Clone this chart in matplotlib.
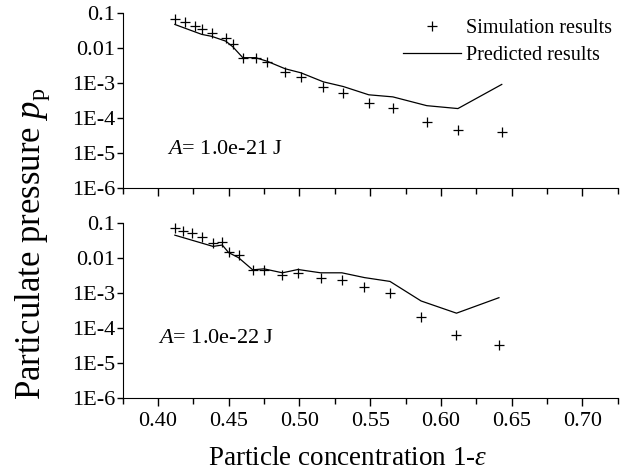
import matplotlib
matplotlib.use('Agg')
import matplotlib.pyplot as plt
from matplotlib.ticker import FixedLocator, LogLocator, NullFormatter

plt.rcParams['font.family'] = ['Liberation Serif', 'DejaVu Serif']
plt.rcParams['mathtext.fontset'] = 'custom'
plt.rcParams['mathtext.it'] = 'Liberation Serif:italic'
plt.rcParams['mathtext.rm'] = 'Liberation Serif'

# A = 1.0e-21 J (top panel)
sim_x_21 = [0.412, 0.419, 0.426, 0.431, 0.438, 0.448, 0.453, 0.460, 0.469, 0.477,
            0.490, 0.501, 0.517, 0.531, 0.549, 0.566, 0.590, 0.612, 0.643]
sim_y_21 = [0.071, 0.057, 0.043, 0.035, 0.028, 0.020, 0.013, 0.0054, 0.0054, 0.0040,
            0.0021, 0.00154, 8.1e-4, 5.2e-4, 2.7e-4, 1.95e-4, 8.1e-5, 4.6e-5, 4.1e-5]
pred_x_21 = [0.412, 0.431, 0.438, 0.448, 0.453, 0.460, 0.469, 0.477, 0.490, 0.501,
             0.517, 0.531, 0.549, 0.566, 0.590, 0.612, 0.643]
pred_y_21 = [0.048, 0.025, 0.022, 0.016, 0.011, 0.0054, 0.0054, 0.0043, 0.0026, 0.0020,
             0.0011, 8.1e-4, 4.7e-4, 4.1e-4, 2.3e-4, 1.9e-4, 9.3e-4]

# A = 1.0e-22 J (bottom panel)
sim_x_22 = [0.412, 0.418, 0.424, 0.431, 0.439, 0.4455, 0.450, 0.457, 0.467, 0.475,
            0.488, 0.499, 0.515, 0.530, 0.546, 0.564, 0.586, 0.611, 0.641]
sim_y_22 = [0.071, 0.059, 0.050, 0.038, 0.026, 0.028, 0.0144, 0.0116, 0.0045, 0.0045,
            0.0031, 0.0037, 0.0026, 0.0023, 0.0015, 9.6e-4, 2.0e-4, 6.2e-5, 3.2e-5]
pred_x_22 = [0.412, 0.439, 0.4455, 0.450, 0.457, 0.467, 0.475, 0.488, 0.499, 0.515,
             0.530, 0.546, 0.564, 0.586, 0.611, 0.641]
pred_y_22 = [0.044, 0.021, 0.023, 0.014, 0.010, 0.0045, 0.0048, 0.0037, 0.0046, 0.0037,
             0.0037, 0.0027, 0.0021, 5.8e-4, 2.6e-4, 7.2e-4]

y_ticks = [1e-6, 1e-5, 1e-4, 1e-3, 1e-2, 1e-1]
y_labels = ['1E-6', '1E-5', '1E-4', '1E-3', '0.01', '0.1']
x_ticks = [0.40, 0.45, 0.50, 0.55, 0.60, 0.65, 0.70]
x_labels = ['0.40', '0.45', '0.50', '0.55', '0.60', '0.65', '0.70']
x_minor = [0.375, 0.425, 0.475, 0.525, 0.575, 0.625, 0.675, 0.725]
panel_labels = ['$A$= 1.0e-21 J', '$A$= 1.0e-22 J']
label_pos = [(0.089, 0.223), (0.071, 0.34)]

fig = plt.figure(figsize=(6.25, 4.72), dpi=100)
ax1 = fig.add_axes([0.196, 0.601, 0.7925, 0.3708])
ax2 = fig.add_axes([0.196, 0.1574, 0.7925, 0.3708])

panels = [(ax1, sim_x_21, sim_y_21, pred_x_21, pred_y_21),
          (ax2, sim_x_22, sim_y_22, pred_x_22, pred_y_22)]

for i, (ax, sx, sy, px, py) in enumerate(panels):
    ax.plot(sx, sy, '+', color='black', markersize=7.5, markeredgewidth=0.9,
            label='Simulation results')
    ax.plot(px, py, '-', color='black', linewidth=0.9, label='Predicted results')
    ax.set_yscale('log')
    ax.set_ylim(1e-6, 1e-1)
    ax.set_xlim(0.375, 0.725)
    ax.spines['top'].set_visible(False)
    ax.spines['right'].set_visible(False)
    ax.yaxis.set_major_locator(FixedLocator(y_ticks))
    ax.set_yticklabels(y_labels)
    ax.yaxis.set_minor_locator(LogLocator(base=10, subs=range(2, 10)))
    ax.yaxis.set_minor_formatter(NullFormatter())
    ax.xaxis.set_major_locator(FixedLocator(x_ticks))
    ax.xaxis.set_minor_locator(FixedLocator(x_minor))
    ax.tick_params(axis='y', which='major', direction='out', length=4, width=1,
                   labelsize=16, pad=1.5)
    ax.tick_params(axis='y', which='minor', direction='in', length=3, width=0.8)
    ax.tick_params(axis='x', which='major', direction='out', length=6, width=1,
                   labelsize=16, pad=4)
    ax.tick_params(axis='x', which='minor', direction='out', length=4, width=1)
    ax.text(label_pos[i][0], label_pos[i][1], panel_labels[i], transform=ax.transAxes,
            fontsize=16, va='center', ha='left')
    if i == 0:
        ax.set_xticklabels([])
    else:
        ax.set_xticklabels(x_labels)

ax1.legend(loc='upper left', bbox_to_anchor=(0.566, 0.968), frameon=False,
           fontsize=14.5, handlelength=2.9, handletextpad=0.25, labelspacing=0.4,
           borderpad=0, borderaxespad=0)

fig.text(0.556, 0.028, 'Particle concentration 1-$\\varepsilon$', fontsize=19.5,
         ha='center', va='center')
fig.text(0.053, 0.484, 'Particulate pressure $p$$_{\\rm p}$', fontsize=25,
         rotation=90, ha='center', va='center')

fig.savefig('out.png', dpi=100)
